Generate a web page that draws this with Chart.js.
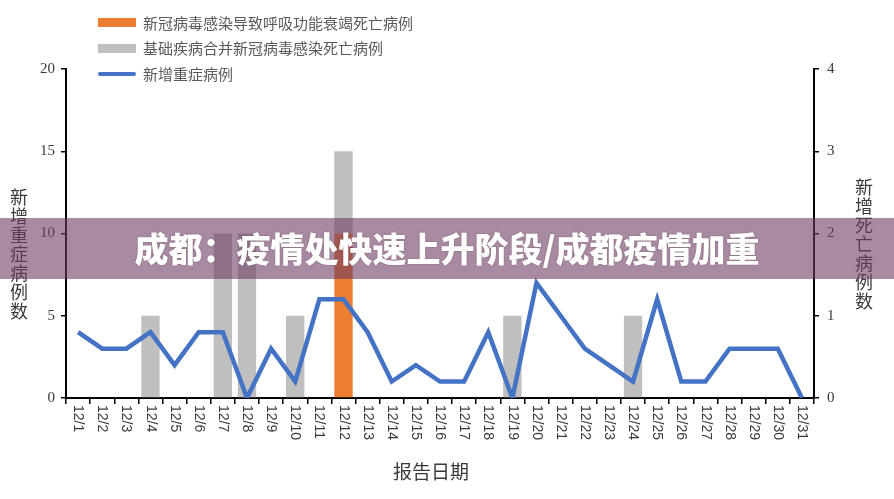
<!DOCTYPE html>
<html lang="zh">
<head>
  <meta charset="UTF-8" />
  <title>成都疫情</title>
  <script src="https://cdn.jsdelivr.net/npm/chart.js"></script>
  <style>
    body {
      margin: 0;
      background: #fff;
      font-family: 'Noto Sans CJK SC', sans-serif;
    }
    .wrap {
      position: relative;
      width: 894px;
      height: 499px;
      overflow: hidden;
    }
    canvas { position: absolute; left: 0; top: 0; }
    .legend {
      position: absolute;
      left: 98px;
      top: 10px;
      font-size: 15px;
      color: #595959;
    }
    .legend div {
      height: 25.5px;
      line-height: 22px;
      display: flex;
      align-items: center;
    }
    .legend span.sw {
      display: inline-block;
      width: 38px;
      height: 9px;
      margin-right: 7px;
    }
    .legend span.ln {
      display: inline-block;
      width: 38px;
      height: 4px;
      border-radius: 2px;
      margin-right: 7px;
      background: #4472c4;
    }
    .ytitle {
      position: absolute;
      writing-mode: vertical-rl;
      text-orientation: upright;
      font-size: 18px;
      line-height: 20px;
      letter-spacing: 1px;
      color: #3a3a3a;
    }
    .xtitle {
      position: absolute;
      left: 393px;
      top: 457px;
      font-size: 19px;
      color: #3a3a3a;
    }
    .banner {
      position: absolute;
      left: 0;
      top: 218px;
      width: 894px;
      height: 61px;
      background: rgba(110, 60, 100, 0.6);
      color: #fff;
      font-weight: 900;
      font-size: 34px;
      line-height: 60px;
      text-align: center;
      text-shadow: 0 0 2px rgba(60, 30, 50, 0.35);
    }
  </style>
</head>
<body>
  <div class="wrap">
    <canvas id="chart" width="894" height="499"></canvas>
    <div class="legend">
      <div><span class="sw" style="background:#ed7d31"></span>新冠病毒感染导致呼吸功能衰竭死亡病例</div>
      <div><span class="sw" style="background:#bfbfbf"></span>基础疾病合并新冠病毒感染死亡病例</div>
      <div><span class="ln"></span>新增重症病例</div>
    </div>
    <div class="ytitle" style="left:9px; top:188px;">新增重症病例数</div>
    <div class="ytitle" style="left:854px; top:178px;">新增死亡病例数</div>
    <div class="xtitle">报告日期</div>
    <div class="banner">成都：疫情处快速上升阶段/成都疫情加重</div>
  </div>

  <script>
    const dates = ['12/1','12/2','12/3','12/4','12/5','12/6','12/7','12/8','12/9','12/10',
      '12/11','12/12','12/13','12/14','12/15','12/16','12/17','12/18','12/19','12/20',
      '12/21','12/22','12/23','12/24','12/25','12/26','12/27','12/28','12/29','12/30','12/31'];

    // deaths (right axis)
    const respFailDeaths = [null,null,null,null,null,null,null,null,null,null,
      null,2,null,null,null,null,null,null,null,null,
      null,null,null,null,null,null,null,null,null,null,null];
    const comorbidDeaths = [null,null,null,1,null,null,2,2,null,1,
      null,1,null,null,null,null,null,null,1,null,
      null,null,null,1,null,null,null,null,null,null,null];

    // new severe cases (left axis)
    const severeCases = [4,3,3,4,2,4,4,0,3,1,
      6,6,4,1,2,1,1,4,0,7,
      5,3,2,1,6,1,1,3,3,3,0];

    const leftTicks = { min: 0, max: 20, step: 5 };
    const rightTicks = { min: 0, max: 4, step: 1 };

    // draw x labels rotated clockwise (top-to-bottom), like the original
    const xLabelPlugin = {
      id: 'xLabels',
      afterDraw(chart) {
        const ctx = chart.ctx;
        const xs = chart.scales.x;
        ctx.save();
        ctx.fillStyle = '#3a3a3a';
        ctx.font = '14px "Liberation Sans", sans-serif';
        ctx.textAlign = 'left';
        ctx.textBaseline = 'middle';
        dates.forEach((d, i) => {
          const x = xs.getPixelForValue(i);
          ctx.save();
          ctx.translate(x, 405);
          ctx.rotate(Math.PI / 2);
          ctx.fillText(d, 0, 0);
          ctx.restore();
        });
        ctx.restore();
      }
    };

    const ctx = document.getElementById('chart').getContext('2d');
    new Chart(ctx, {
      data: {
        labels: dates,
        datasets: [
          {
            type: 'line',
            label: '新增重症病例',
            data: severeCases,
            yAxisID: 'y',
            borderColor: '#4472c4',
            borderWidth: 4.5,
            pointRadius: 0,
            tension: 0,
            order: 0
          },
          {
            type: 'bar',
            label: '新冠病毒感染导致呼吸功能衰竭死亡病例',
            data: respFailDeaths,
            yAxisID: 'y1',
            backgroundColor: '#ed7d31',
            stack: 'd',
            categoryPercentage: 1,
            barPercentage: 0.76,
            order: 1
          },
          {
            type: 'bar',
            label: '基础疾病合并新冠病毒感染死亡病例',
            data: comorbidDeaths,
            yAxisID: 'y1',
            backgroundColor: '#bfbfbf',
            stack: 'd',
            categoryPercentage: 1,
            barPercentage: 0.76,
            order: 1
          }
        ]
      },
      options: {
        responsive: false,
        animation: false,
        layout: { padding: { top: 69, left: 0, right: 0, bottom: 0 } },
        plugins: {
          legend: { display: false },
          tooltip: { enabled: false }
        },
        scales: {
          x: {
            stacked: true,
            offset: true,
            grid: {
              offset: true,
              drawOnChartArea: false,
              drawTicks: true,
              tickLength: 6,
              color: '#000',
              lineWidth: 1.5
            },
            border: { color: '#000', width: 2 },
            ticks: {
              autoSkip: false,
              maxRotation: 90,
              minRotation: 90,
              color: 'transparent'
            },
            afterFit(scale) { scale.height = 101; }
          },
          y: {
            position: 'left',
            min: leftTicks.min,
            max: leftTicks.max,
            grid: {
              drawOnChartArea: false,
              drawTicks: true,
              tickLength: 5,
              color: '#000',
              lineWidth: 1.5
            },
            border: { color: '#000', width: 2 },
            ticks: {
              stepSize: leftTicks.step,
              padding: 6,
              color: '#3a3a3a',
              font: { family: '"Liberation Serif", serif', size: 15 }
            },
            afterFit(scale) { scale.width = 66; }
          },
          y1: {
            position: 'right',
            stacked: true,
            min: rightTicks.min,
            max: rightTicks.max,
            grid: {
              drawOnChartArea: false,
              drawTicks: true,
              tickLength: 5,
              color: '#000',
              lineWidth: 1.5
            },
            border: { color: '#000', width: 2 },
            ticks: {
              stepSize: rightTicks.step,
              padding: 8,
              color: '#3a3a3a',
              font: { family: '"Liberation Serif", serif', size: 15 }
            },
            afterFit(scale) { scale.width = 80; }
          }
        }
      },
      plugins: [xLabelPlugin]
    });
  </script>
</body>
</html>
